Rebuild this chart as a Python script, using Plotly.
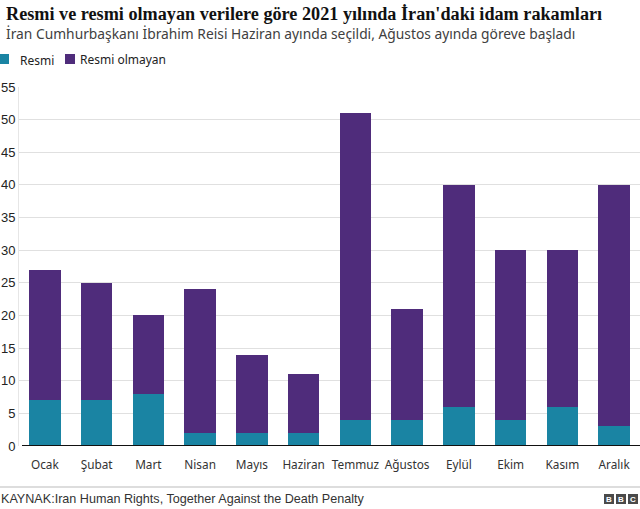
import plotly.graph_objects as go

months = ["Ocak", "Şubat", "Mart", "Nisan", "Mayıs", "Haziran", "Temmuz",
          "Ağustos", "Eylül", "Ekim", "Kasım", "Aralık"]
resmi = [7, 7, 8, 2, 2, 2, 4, 4, 6, 4, 6, 3]
resmi_olmayan = [20, 18, 12, 22, 12, 9, 47, 17, 34, 26, 24, 37]
y_ticks = [0, 5, 10, 15, 20, 25, 30, 35, 40, 45, 50, 55]

TEAL = "#1a84a3"
PURPLE = "#4f2c7b"

L, T, B = 19, 87, 63
W, H = 640, 509
PW, PH = W - L, H - T - B


def px(x):
    return (x - L) / PW


def py(y):
    return (H - B - y) / PH


fig = go.Figure()
fig.add_trace(go.Bar(x=months, y=resmi, name="Resmi", marker_color=TEAL,
                     marker_line_width=0))
fig.add_trace(go.Bar(x=months, y=resmi_olmayan, name="Resmi olmayan",
                     marker_color=PURPLE, marker_line_width=0))

fig.update_layout(
    barmode="stack",
    bargap=0.39,
    width=W, height=H,
    margin=dict(l=L, r=0, t=T, b=B, autoexpand=False),
    paper_bgcolor="white", plot_bgcolor="white",
    font=dict(family="Liberation Sans, Arial, sans-serif", color="#222222", size=13),
    showlegend=False,
    xaxis=dict(showgrid=False, ticks="", showline=False, automargin=False,
               tickfont=dict(size=11.8, family="Noto Sans, sans-serif", color="#333"),
               ticklabelstandoff=10),
    yaxis=dict(range=[0, 55], tickvals=y_ticks, showgrid=True, automargin=False,
               gridcolor="#e0e0e0", gridwidth=1, zeroline=False,
               showline=True, linecolor="#e6e6e6", linewidth=1,
               ticks="",
               tickfont=dict(size=13, family="Liberation Sans, Arial, sans-serif",
                             color="#222"),
               ticklabelstandoff=0),
)

# zero baseline
fig.add_shape(type="line", xref="paper", yref="y", x0=px(22), x1=1.0, y0=0, y1=0,
              line=dict(color="#111111", width=2))

# title & subtitle
fig.add_annotation(text="<b>Resmi ve resmi olmayan verilere göre 2021 yılında İran'daki idam rakamları</b>",
                   xref="paper", yref="paper", x=px(4), xanchor="left",
                   y=py(14), yanchor="middle", showarrow=False,
                   font=dict(size=18.2, family="Liberation Serif, DejaVu Serif, serif",
                             color="#111"))
fig.add_annotation(text="İran Cumhurbaşkanı İbrahim Reisi Haziran ayında seçildi, Ağustos ayında göreve başladı",
                   xref="paper", yref="paper", x=px(4), xanchor="left",
                   y=py(33), yanchor="middle", showarrow=False,
                   font=dict(size=13.8, family="Noto Sans, sans-serif", color="#404040"))

# manual legend
legend_items = [("Resmi", TEAL, -1, 18, 61), ("Resmi olmayan", PURPLE, 65, 78, 59)]
for name, col, sx, tx, ty in legend_items:
    fig.add_shape(type="rect", xref="paper", yref="paper",
                  x0=px(sx), x1=px(sx + 10), y0=py(64), y1=py(54),
                  fillcolor=col, line_width=0)
    fig.add_annotation(text=name, xref="paper", yref="paper", x=px(tx),
                       xanchor="left", y=py(ty), yanchor="middle", showarrow=False,
                       font=dict(size=12, family="Noto Sans, sans-serif", color="#222"))

# footer
fig.add_shape(type="line", xref="paper", yref="paper", x0=px(0), x1=1.0,
              y0=py(487), y1=py(487), line=dict(color="#bbbbbb", width=1))
fig.add_annotation(text="KAYNAK:Iran Human Rights, Together Against the Death Penalty",
                   xref="paper", yref="paper", x=px(-1), xanchor="left",
                   y=py(499), yanchor="middle", showarrow=False,
                   font=dict(size=12.6, family="Liberation Sans, Arial, sans-serif",
                             color="#333"))
for cx, letter in zip([609, 621, 633], ["B", "B", "C"]):
    fig.add_shape(type="rect", xref="paper", yref="paper",
                  x0=px(cx - 5), x1=px(cx + 5), y0=py(504), y1=py(494),
                  fillcolor="#4a4a4a", line_width=0)
    fig.add_annotation(text="<b>" + letter + "</b>", xref="paper", yref="paper",
                       x=px(cx), xanchor="center", y=py(499), yanchor="middle",
                       showarrow=False,
                       font=dict(size=8, family="Liberation Sans, Arial, sans-serif",
                                 color="white"))

fig.write_html("out.html", config={"displayModeBar": False},
               post_script="document.body.style.margin='0';document.body.style.overflow='hidden';")
